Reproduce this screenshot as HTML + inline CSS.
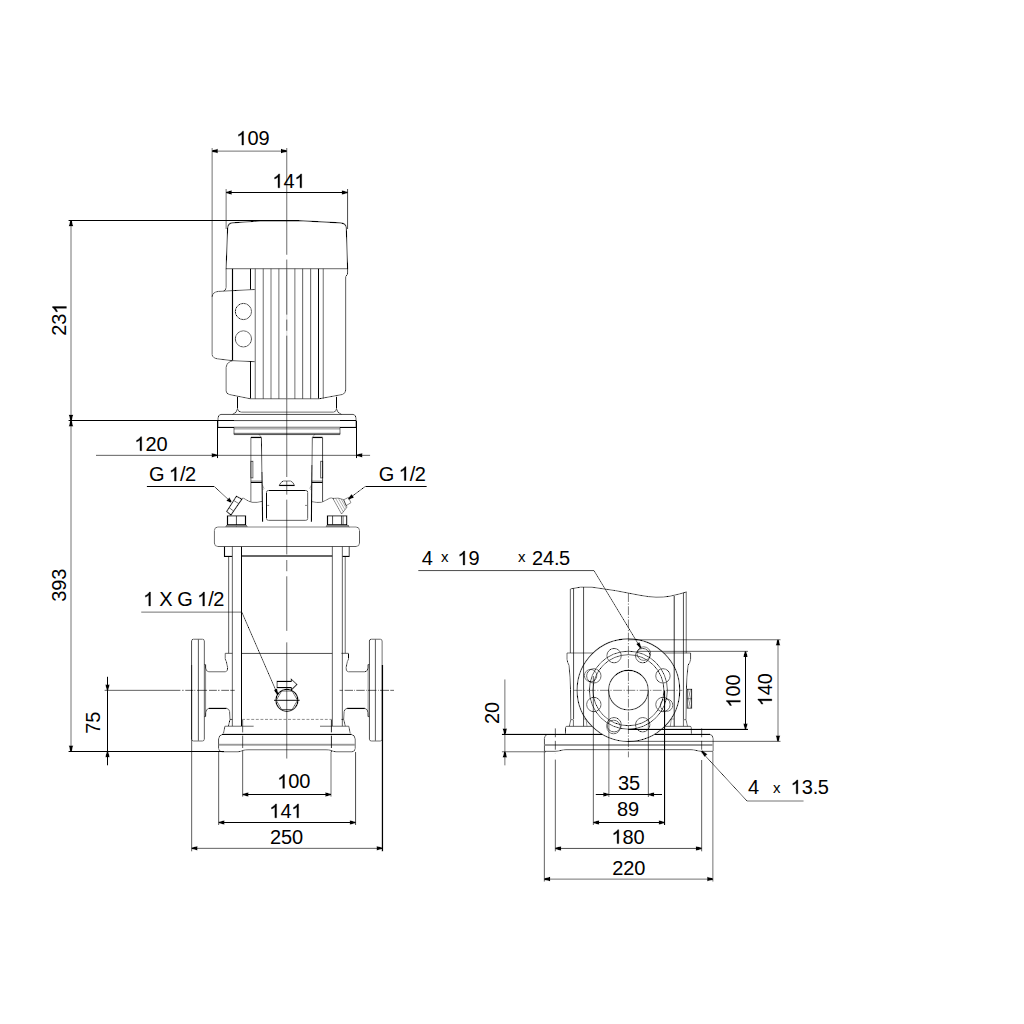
<!DOCTYPE html>
<html><head><meta charset="utf-8"><title>Pump dimensional drawing</title>
<style>
html,body{margin:0;padding:0;background:#fff;}
body{width:1024px;height:1024px;overflow:hidden;}
svg{display:block;}
text{font-family:"Liberation Sans",sans-serif;fill:#000;}
</style></head><body>
<svg width="1024" height="1024" viewBox="0 0 1024 1024">
<defs><filter id="gm" x="0" y="0" width="1024" height="1024" filterUnits="userSpaceOnUse" color-interpolation-filters="sRGB">
<feComponentTransfer><feFuncR type="gamma" exponent="0.4545"/><feFuncG type="gamma" exponent="0.4545"/><feFuncB type="gamma" exponent="0.4545"/></feComponentTransfer>
</filter></defs>
<g filter="url(#gm)">
<rect x="0" y="0" width="1024" height="1024" fill="#fff"/>
<g id="front">
<path d="M226.1,268.7 L227.6,228.4 Q227.9,223.4 232,222.9 L260.3,221 L298.4,220.6 L340.4,222.9 Q345.9,223.4 346.3,227.6 L347.6,268.7 Z" stroke="#000" stroke-width="1.15" fill="none"/>
<path d="M347.6,268.7 L347.6,273 Q347.5,275.3 346,276 Q345.6,276.5 345.7,278 L345.7,390 Q345.6,393.6 342.3,394.5 L318.9,398.8" stroke="#000" stroke-width="1.0" fill="none"/>
<path d="M226.1,268.7 L226.1,287.5 Q226,290.6 223.5,291" stroke="#000" stroke-width="1.0" fill="none"/>
<path d="M254.8,289.5 L218.3,291.4 Q212.3,292.2 212.1,296.9 L212.1,354.5 Q212.4,358 217.3,358.8 L232.6,360.7 L254.8,361.7" stroke="#000" stroke-width="1.0" fill="none"/>
<line x1="232.5" y1="268.7" x2="232.5" y2="360.7" stroke="#000" stroke-width="1.3"/>
<path d="M232.6,360.7 L230.5,361.4 Q226.3,363 226.1,367.2 L226.1,391 Q226.3,393.8 229.3,394.5 L250.5,398.8" stroke="#000" stroke-width="1.0" fill="none"/>
<line x1="250.5" y1="268.7" x2="250.5" y2="289.7" stroke="#000" stroke-width="1.0"/>
<line x1="250.5" y1="361.5" x2="250.5" y2="398.8" stroke="#000" stroke-width="1.0"/>
<line x1="255.2" y1="268.7" x2="255.2" y2="398.8" stroke="#000" stroke-width="1.0"/>
<line x1="263.2" y1="268.7" x2="263.2" y2="398.8" stroke="#000" stroke-width="1.0"/>
<line x1="271.0" y1="268.7" x2="271.0" y2="398.8" stroke="#000" stroke-width="1.0"/>
<line x1="278.9" y1="268.7" x2="278.9" y2="398.8" stroke="#000" stroke-width="1.0"/>
<line x1="294.9" y1="268.7" x2="294.9" y2="398.8" stroke="#000" stroke-width="1.0"/>
<line x1="302.7" y1="268.7" x2="302.7" y2="398.8" stroke="#000" stroke-width="1.0"/>
<line x1="310.7" y1="268.7" x2="310.7" y2="398.8" stroke="#000" stroke-width="1.0"/>
<line x1="318.5" y1="268.7" x2="318.5" y2="398.8" stroke="#000" stroke-width="1.0"/>
<line x1="323.2" y1="268.7" x2="323.2" y2="398.8" stroke="#000" stroke-width="1.0"/>
<line x1="250.5" y1="398.8" x2="318.9" y2="398.8" stroke="#000" stroke-width="1.0"/>
<circle cx="243.4" cy="311.5" r="8.1" stroke="#000" stroke-width="1.0" fill="none"/>
<circle cx="243.4" cy="338.9" r="8.1" stroke="#000" stroke-width="1.0" fill="none"/>
<path d="M237.5,396.6 L237.5,408.6 Q237.8,411.9 241.2,412.1 L333.6,412.1 Q336.3,411.9 336.5,408.6 L336.5,396.6" stroke="#000" stroke-width="1.0" fill="none"/>
<path d="M237.5,408.6 Q237,413 232.5,414.4" stroke="#000" stroke-width="1.0" fill="none"/>
<path d="M336.5,408.6 Q337,413 341.5,414.4" stroke="#000" stroke-width="1.0" fill="none"/>
<path d="M218,427.3 L218,418 Q218.2,414.6 221,414.4 L353,414.4 Q355.8,414.6 356,418 L356,427.3" stroke="#000" stroke-width="1.0" fill="none"/>
<line x1="218" y1="427.4" x2="234" y2="427.4" stroke="#000" stroke-width="1.2"/>
<line x1="340" y1="427.4" x2="356" y2="427.4" stroke="#000" stroke-width="1.2"/>
<line x1="234" y1="427.2" x2="340" y2="427.2" stroke="#000" stroke-width="1.0"/>
<line x1="234" y1="427.3" x2="234" y2="433.9" stroke="#000" stroke-width="1.0"/>
<line x1="340" y1="427.3" x2="340" y2="433.9" stroke="#000" stroke-width="1.0"/>
<line x1="234" y1="428.9" x2="340" y2="428.9" stroke="#000" stroke-width="0.9"/>
<line x1="233.7" y1="433.3" x2="340.3" y2="433.3" stroke="#000" stroke-width="1.0"/>
<line x1="233.7" y1="434.6" x2="340.3" y2="434.6" stroke="#000" stroke-width="1.0"/>
<line x1="250.9" y1="437.4" x2="261.4" y2="437.4" stroke="#000" stroke-width="1.5"/>
<line x1="250.9" y1="437.3" x2="250.9" y2="501.8" stroke="#000" stroke-width="1.0"/>
<path d="M261.4,437.3 L262.6,521.8" stroke="#000" stroke-width="1.0" fill="none"/>
<path d="M262.0,472 L262.6,521.8" stroke="#000" stroke-width="1.1" fill="none"/>
<line x1="258.7" y1="434" x2="261.2" y2="437.2" stroke="#000" stroke-width="0.6"/>
<rect x="250.9" y="461.3" width="2.0" height="16.6" rx="0" stroke="#000" stroke-width="1.0" fill="none"/>
<line x1="250.9" y1="481.1" x2="262.3" y2="481.1" stroke="#000" stroke-width="1.0"/>
<line x1="250.9" y1="482.5" x2="262.3" y2="482.5" stroke="#000" stroke-width="1.0"/>
<line x1="312.3" y1="437.4" x2="322.6" y2="437.4" stroke="#000" stroke-width="1.5"/>
<line x1="322.6" y1="437.3" x2="322.6" y2="501.8" stroke="#000" stroke-width="1.0"/>
<path d="M312.3,437.3 L311.4,521.8" stroke="#000" stroke-width="1.0" fill="none"/>
<path d="M311.9,465 L311.4,521.8" stroke="#000" stroke-width="1.1" fill="none"/>
<line x1="315" y1="434" x2="312.6" y2="437.2" stroke="#000" stroke-width="0.6"/>
<rect x="320.7" y="461.3" width="2.0" height="16.6" rx="0" stroke="#000" stroke-width="1.0" fill="none"/>
<line x1="311.6" y1="481.1" x2="322.7" y2="481.1" stroke="#000" stroke-width="1.0"/>
<line x1="311.6" y1="482.5" x2="322.7" y2="482.5" stroke="#000" stroke-width="1.0"/>
<rect x="266.5" y="490.5" width="41.2" height="29.8" rx="1.8" stroke="#000" stroke-width="1.0" fill="none"/>
<path d="M279.2,485.5 Q280.6,482 283.2,481 L290.6,481 Q293.2,482 294.5,485.5 Z" stroke="#000" stroke-width="1.0" fill="none"/>
<line x1="279.2" y1="485.4" x2="294.5" y2="485.4" stroke="#000" stroke-width="1.4"/>
<line x1="267.2" y1="505.4" x2="269.2" y2="505.4" stroke="#000" stroke-width="0.8"/>
<line x1="305" y1="505.4" x2="307" y2="505.4" stroke="#000" stroke-width="0.8"/>
<path d="M262.2,484.5 L264,488.5 L262.5,490" stroke="#000" stroke-width="0.6" fill="none"/>
<path d="M311.7,484.5 L309.8,488.5 L311.4,490" stroke="#000" stroke-width="0.6" fill="none"/>
<path d="M262.4,501.3 Q257,502.9 252,502.3 Q248.5,501.4 245.5,499.4 Q243.6,497.6 241.9,498.4" stroke="#000" stroke-width="0.9" fill="none"/>
<path d="M311.6,501.6 Q317,502.9 321.5,502.3 Q325.5,500.6 329.9,498.1 Q331.6,497.5 333.9,498.8" stroke="#000" stroke-width="0.9" fill="none"/>
<path d="M236.4,496.2 L241.9,499.1 L230.9,515 L226.7,511.5 Z" stroke="#000" stroke-width="1.2" fill="none"/>
<line x1="233.7" y1="500.5" x2="238.8" y2="503.6" stroke="#000" stroke-width="0.9"/>
<line x1="229.1" y1="507.7" x2="233.65" y2="511" stroke="#000" stroke-width="0.9"/>
<path d="M332.9,498.4 L341.6,514" stroke="#000" stroke-width="0.8" fill="none"/>
<path d="M332.9,498.4 Q338,497.2 343.6,499.6 L347,507.1 L341.6,514" stroke="#000" stroke-width="0.8" fill="none"/>
<line x1="335.6" y1="498.3" x2="343.3" y2="511.8" stroke="#000" stroke-width="0.6"/>
<line x1="338.3" y1="498.3" x2="345" y2="509.8" stroke="#000" stroke-width="0.6"/>
<line x1="341" y1="498.8" x2="346.3" y2="508.2" stroke="#000" stroke-width="0.6"/>
<path d="M343.6,499.8 L348.5,497.4 L350.9,502.75 L346,505.7 Z" stroke="#000" stroke-width="0.8" fill="none"/>
<rect x="227.5" y="515.9" width="18.0" height="8.8" rx="0" stroke="#000" stroke-width="1.3" fill="none"/>
<line x1="236.4" y1="515.9" x2="236.4" y2="526.8" stroke="#000" stroke-width="1.0"/>
<path d="M227.5,524.7 L225.5,527 M245.5,524.7 L247.5,527" stroke="#000" stroke-width="0.8" fill="none"/>
<line x1="226" y1="525.9" x2="247" y2="525.9" stroke="#333" stroke-width="1.8"/>
<rect x="327.5" y="515.9" width="19.2" height="8.8" rx="0" stroke="#000" stroke-width="1.3" fill="none"/>
<line x1="332.6" y1="515.9" x2="332.6" y2="524.7" stroke="#000" stroke-width="1.0"/>
<line x1="341.6" y1="515.9" x2="341.6" y2="524.7" stroke="#000" stroke-width="1.0"/>
<line x1="343.1" y1="515.9" x2="343.1" y2="524.7" stroke="#000" stroke-width="1.0"/>
<path d="M327.5,524.7 L326,527 M346.7,524.7 L349.5,527" stroke="#000" stroke-width="0.8" fill="none"/>
<line x1="326.5" y1="525.9" x2="349" y2="525.9" stroke="#333" stroke-width="1.8"/>
<rect x="214.4" y="527" width="145.1" height="19.5" rx="3.5" stroke="#000" stroke-width="0.9" fill="none"/>
<path d="M224.5,546.5 L224.5,556.4 L232.3,556.4" stroke="#000" stroke-width="1.2" fill="none"/>
<path d="M349.2,546.5 L349.2,556.4 L342.3,556.4" stroke="#000" stroke-width="1.2" fill="none"/>
<line x1="241.5" y1="555.9" x2="332.3" y2="555.9" stroke="#222" stroke-width="2.0"/>
<line x1="228.7" y1="556.3" x2="228.7" y2="653.3" stroke="#000" stroke-width="1.0"/>
<line x1="232.3" y1="546.5" x2="232.3" y2="726.2" stroke="#000" stroke-width="1.0"/>
<line x1="241.5" y1="546.5" x2="241.5" y2="726.2" stroke="#000" stroke-width="1.0"/>
<line x1="332.3" y1="546.5" x2="332.3" y2="726.2" stroke="#000" stroke-width="1.0"/>
<line x1="342.3" y1="546.5" x2="342.3" y2="726.2" stroke="#000" stroke-width="1.0"/>
<line x1="345.2" y1="556.3" x2="345.2" y2="653.3" stroke="#000" stroke-width="1.0"/>
<line x1="241.5" y1="653.4" x2="332.3" y2="653.4" stroke="#000" stroke-width="1.0"/>
<path d="M232.4,653.3 L225.2,653.3 L225.2,658.7 Q225.4,660 226.3,661.4 L227.6,667.6 Q228.1,671.5 225.3,671.8 L208.8,671.8 Q206,671.5 205.6,668 L205.6,664.6 L204.3,664.6" stroke="#000" stroke-width="1.0" fill="none"/>
<path d="M204.3,716.6 L205.6,716.6 L205.7,712.5 Q206,708.9 208.8,708.4 L226.6,708.4 Q229.2,708.8 229.6,711.5 L230,719.4 L232.4,719.4" stroke="#000" stroke-width="1.0" fill="none"/>
<path d="M208.8,708.4 L226.6,708.4" stroke="#000" stroke-width="1.3" fill="none"/>
<path d="M230,719.4 L228.4,726.2" stroke="#000" stroke-width="1.0" fill="none"/>
<path d="M205.6,664.6 L205.6,716.6" stroke="#000" stroke-width="0.8" fill="none"/>
<path d="M193.4,639.2 L202.5,639.2 Q204.3,639.3 204.3,641 L204.3,739.2 Q204.3,740.9 202.5,741 L193.4,741 Q191.6,740.9 191.6,739.2 L191.6,641 Q191.6,639.3 193.4,639.2 Z" stroke="#000" stroke-width="1.0" fill="none"/>
<path d="M198.35,639.4 L198.35,740.8" stroke="#000" stroke-width="1.0" fill="none"/>
<path d="M341.3,653.3 L348.5,653.3 L348.5,658.7 Q348.3,660 347.4,661.4 L346.1,667.6 Q345.6,671.5 348.4,671.8 L364.9,671.8 Q367.7,671.5 368.1,668 L368.1,664.6 L369.4,664.6" stroke="#000" stroke-width="1.0" fill="none"/>
<path d="M369.4,716.6 L368.1,716.6 L368.0,712.5 Q367.7,708.9 364.9,708.4 L347.1,708.4 Q344.5,708.8 344.1,711.5 L343.7,719.4 L341.3,719.4" stroke="#000" stroke-width="1.0" fill="none"/>
<path d="M364.9,708.4 L347.1,708.4" stroke="#000" stroke-width="1.3" fill="none"/>
<path d="M343.7,719.4 L345.3,726.2" stroke="#000" stroke-width="1.0" fill="none"/>
<path d="M368.1,664.6 L368.1,716.6" stroke="#000" stroke-width="0.8" fill="none"/>
<path d="M380.3,639.2 L371.2,639.2 Q369.4,639.3 369.4,641 L369.4,739.2 Q369.4,740.9 371.2,741 L380.3,741 Q382.1,740.9 382.1,739.2 L382.1,641 Q382.1,639.3 380.3,639.2 Z" stroke="#000" stroke-width="1.0" fill="none"/>
<path d="M375.35,639.4 L375.35,740.8" stroke="#000" stroke-width="1.0" fill="none"/>
<circle cx="286.9" cy="700.3" r="11.0" stroke="#000" stroke-width="1.25" fill="none"/>
<path d="M297.5,700.3 L292.2,709.48 L281.6,709.48 L276.3,700.3 L281.6,691.12 L292.2,691.12 Z" stroke="#000" stroke-width="0.9" fill="none"/>
<line x1="274" y1="700.3" x2="299.8" y2="700.3" stroke="#000" stroke-width="1.3"/>
<path d="M277.1,681.3 L291.3,681.3 L291.3,679.2 L296.9,684.4 L291.3,690 L291.3,687.6 L277.1,687.6 Z" stroke="#000" stroke-width="1.15" fill="none"/>
<line x1="242" y1="719.4" x2="332" y2="719.4" stroke="#000" stroke-width="0.75" stroke-dasharray="3 1.6"/>
<path d="M223.5,733.4 L224.9,726.2 L253.7,726.2" stroke="#000" stroke-width="1.0" fill="none"/>
<path d="M350.2,733.4 L348.8,726.2 L320,726.2" stroke="#000" stroke-width="1.0" fill="none"/>
<line x1="222" y1="734.4" x2="351.6" y2="734.4" stroke="#000" stroke-width="1.4"/>
<path d="M218.6,748.5 L218.6,739 Q218.8,735 222.5,734.4" stroke="#000" stroke-width="1.0" fill="none"/>
<path d="M355.2,748.5 L355.2,739 Q355,735 351.2,734.4" stroke="#000" stroke-width="1.0" fill="none"/>
<path d="M218.6,748.5 Q218.7,751.6 222,751.8 L238,751.8 Q241,751.5 243,750.4 Q245,749.8 248,749.8 L326,749.8 Q329,749.8 331,750.4 Q333,751.5 336,751.8 L352,751.8 Q355.1,751.6 355.2,748.5" stroke="#000" stroke-width="1.0" fill="none"/>
<line x1="218.8" y1="744.8" x2="355.1" y2="744.8" stroke="#555" stroke-width="2.0"/>
<line x1="242.7" y1="720" x2="242.7" y2="752" stroke="#000" stroke-width="1.0" stroke-dasharray="12.5 3"/>
<line x1="331.4" y1="720" x2="331.4" y2="752" stroke="#000" stroke-width="1.1" stroke-dasharray="12.5 3"/>
<line x1="286.8" y1="268.7" x2="286.8" y2="398.8" stroke="#aaa" stroke-width="1.0"/>
<line x1="286.8" y1="148" x2="286.8" y2="254.8" stroke="#000" stroke-width="1.0"/>
<line x1="286.8" y1="259.5" x2="286.8" y2="314.7" stroke="#000" stroke-width="1.0"/>
<line x1="286.8" y1="319.5" x2="286.8" y2="330.8" stroke="#000" stroke-width="1.0"/>
<line x1="286.8" y1="335.6" x2="286.8" y2="477" stroke="#000" stroke-width="1.0"/>
<line x1="286.8" y1="481" x2="286.8" y2="494.7" stroke="#000" stroke-width="1.0"/>
<line x1="286.8" y1="499.6" x2="286.8" y2="554.5" stroke="#000" stroke-width="1.0"/>
<line x1="286.8" y1="560" x2="286.8" y2="571.25" stroke="#000" stroke-width="1.0"/>
<line x1="286.8" y1="576.25" x2="286.8" y2="630.9" stroke="#000" stroke-width="1.0"/>
<line x1="286.8" y1="642.3" x2="286.8" y2="758.6" stroke="#000" stroke-width="1.0"/>
<line x1="104.5" y1="690.3" x2="180.5" y2="690.3" stroke="#000" stroke-width="1.0"/>
<line x1="182.1" y1="690.3" x2="183.7" y2="690.3" stroke="#000" stroke-width="1.0"/>
<line x1="185.2" y1="690.3" x2="193.4" y2="690.3" stroke="#000" stroke-width="1.0"/>
<line x1="194.2" y1="690.3" x2="195.4" y2="690.3" stroke="#000" stroke-width="1.0"/>
<line x1="197" y1="690.3" x2="207.1" y2="690.3" stroke="#000" stroke-width="1.0"/>
<line x1="209" y1="690.3" x2="216.9" y2="690.3" stroke="#000" stroke-width="1.0"/>
<line x1="218" y1="690.3" x2="219.6" y2="690.3" stroke="#000" stroke-width="1.0"/>
<line x1="221.2" y1="690.3" x2="229" y2="690.3" stroke="#000" stroke-width="1.0"/>
<line x1="230.2" y1="690.3" x2="234.8" y2="690.3" stroke="#000" stroke-width="1.0"/>
<line x1="339.4" y1="690.3" x2="342.9" y2="690.3" stroke="#000" stroke-width="1.0"/>
<line x1="344.5" y1="690.3" x2="353" y2="690.3" stroke="#000" stroke-width="1.0"/>
<line x1="354.2" y1="690.3" x2="355" y2="690.3" stroke="#000" stroke-width="1.0"/>
<line x1="356.2" y1="690.3" x2="364.8" y2="690.3" stroke="#000" stroke-width="1.0"/>
<line x1="366.1" y1="690.3" x2="366.9" y2="690.3" stroke="#000" stroke-width="1.0"/>
<line x1="367.9" y1="690.3" x2="376.5" y2="690.3" stroke="#000" stroke-width="1.0"/>
<line x1="378" y1="690.3" x2="378.8" y2="690.3" stroke="#000" stroke-width="1.0"/>
<line x1="380" y1="690.3" x2="389" y2="690.3" stroke="#000" stroke-width="1.0"/>
<line x1="390.2" y1="690.3" x2="394" y2="690.3" stroke="#000" stroke-width="1.0"/>
</g>
<g id="side">
<line x1="570.3" y1="589" x2="570.3" y2="653.0" stroke="#000" stroke-width="1.0"/>
<line x1="573.6" y1="588.2" x2="573.6" y2="719" stroke="#000" stroke-width="1.0"/>
<line x1="583.6" y1="587" x2="583.6" y2="726.4" stroke="#000" stroke-width="1.0"/>
<line x1="674.2" y1="596" x2="674.2" y2="726.4" stroke="#000" stroke-width="1.3"/>
<line x1="683.4" y1="592.6" x2="683.4" y2="719.7" stroke="#000" stroke-width="1.0"/>
<line x1="686.2" y1="591.6" x2="686.2" y2="653.3" stroke="#000" stroke-width="1.0"/>
<path d="M570.5,588.9 Q580,586.2 592,587.2 Q615,590 640,595.3 Q657,598.6 670,596.2 Q680,594 686.4,592" stroke="#000" stroke-width="1.0" fill="none"/>
<line x1="567.0" y1="653.0" x2="593.2" y2="653.0" stroke="#000" stroke-width="1.0"/>
<line x1="663.6" y1="653.0" x2="690.6" y2="653.0" stroke="#000" stroke-width="1.0"/>
<path d="M567.0,653.0 L567.0,659.3 Q567.4,662.5 569.0,665.2 Q570.3,677 570.5,689.2 L570.8,719.7" stroke="#000" stroke-width="1.0" fill="none"/>
<path d="M690.6,653.0 L690.6,659.3 Q690.2,662.5 688.1,665.2 Q686.6,677 686.4,689.2 L686,719.7" stroke="#000" stroke-width="1.0" fill="none"/>
<path d="M573.4,719.7 L570.8,719.7 L569.3,726.3 M573.4,719.7 L573.4,726.3" stroke="#000" stroke-width="0.9" fill="none"/>
<path d="M583.6,719 L586,719 L587,726.4" stroke="#000" stroke-width="0.7" fill="none"/>
<path d="M683.4,719.7 L686,719.7 L687.5,726.3 M683.4,719.7 L683.4,726.3" stroke="#000" stroke-width="0.9" fill="none"/>
<path d="M674,719 L671.3,719 L670.3,726.4" stroke="#000" stroke-width="0.7" fill="none"/>
<path d="M565.4,733.8 L565.6,727.3 Q565.7,726.3 566.8,726.3 L592.2,726.3" stroke="#000" stroke-width="1.0" fill="none"/>
<path d="M691.4,733.8 L691.2,727.3 Q691.1,726.3 690,726.3 L664.6,726.3" stroke="#000" stroke-width="1.0" fill="none"/>
<line x1="546" y1="734.3" x2="602.3" y2="734.3" stroke="#000" stroke-width="1.3"/>
<line x1="654.5" y1="734.3" x2="710" y2="734.3" stroke="#000" stroke-width="1.3"/>
<path d="M544.4,751.3 L544.4,738.3 Q544.6,734.6 548,734.3" stroke="#000" stroke-width="1.0" fill="none"/>
<path d="M713.1,751.3 L713.1,738.3 Q712.9,734.6 709.4,734.3" stroke="#000" stroke-width="1.0" fill="none"/>
<path d="M544.4,751.3 L555,751.3 Q558.5,751.2 561,750.4 Q563.5,749.7 566,749.7 L691,749.7 Q693.5,749.7 696,750.4 Q698.5,751.2 702,751.3 L713.1,751.3" stroke="#000" stroke-width="1.0" fill="none"/>
<line x1="544.6" y1="744.9" x2="712.8" y2="744.9" stroke="#555" stroke-width="2.0"/>
<circle cx="628.4" cy="690.2" r="51.3" stroke="#000" stroke-width="1.1" fill="none"/>
<circle cx="628.4" cy="690.2" r="39.0" stroke="#000" stroke-width="1.0" fill="none"/>
<circle cx="628.4" cy="690.2" r="35.5" stroke="#000" stroke-width="1.0" fill="none"/>
<circle cx="628.4" cy="690.2" r="19.8" stroke="#000" stroke-width="1.1" fill="none"/>
<circle cx="642.71" cy="655.65" r="7.2" stroke="#000" stroke-width="1.0" fill="none"/>
<circle cx="662.95" cy="675.89" r="7.2" stroke="#000" stroke-width="1.0" fill="none"/>
<circle cx="662.95" cy="704.51" r="7.2" stroke="#000" stroke-width="1.0" fill="none"/>
<circle cx="642.71" cy="724.75" r="7.2" stroke="#000" stroke-width="1.0" fill="none"/>
<circle cx="614.09" cy="724.75" r="7.2" stroke="#000" stroke-width="1.0" fill="none"/>
<circle cx="593.85" cy="704.51" r="7.2" stroke="#000" stroke-width="1.0" fill="none"/>
<circle cx="593.85" cy="675.89" r="7.2" stroke="#000" stroke-width="1.0" fill="none"/>
<circle cx="614.09" cy="655.65" r="7.2" stroke="#000" stroke-width="1.0" fill="none"/>
<circle cx="643.8" cy="653.6" r="6.8" stroke="#000" stroke-width="0.9" fill="none"/>
<circle cx="590.6" cy="675.6" r="6.2" stroke="#000" stroke-width="0.9" fill="none"/>
<circle cx="666.6" cy="705.2" r="6.2" stroke="#000" stroke-width="0.9" fill="none"/>
<circle cx="613.6" cy="727.0" r="6.8" stroke="#000" stroke-width="0.9" fill="none"/>
<rect x="687.3" y="689.3" width="4.3" height="18.9" rx="0" stroke="#000" stroke-width="1.1" fill="none"/>
<line x1="687.3" y1="698.7" x2="691.6" y2="698.7" stroke="#000" stroke-width="0.9"/>
<path d="M688.4,689.6 Q690.6,694.1 688.4,698.5 M690.6,689.6 Q688.6,694.1 690.6,698.5" stroke="#000" stroke-width="0.6" fill="none"/>
<path d="M688.4,698.9 Q690.6,703.4 688.4,707.9 M690.6,698.9 Q688.6,703.4 690.6,707.9" stroke="#000" stroke-width="0.6" fill="none"/>
<line x1="628.4" y1="593" x2="628.4" y2="757.4" stroke="#000" stroke-width="0.85" stroke-dasharray="9 1.4 1.4 1.4" stroke-dashoffset="0"/>
<line x1="573.5" y1="690.3" x2="682.5" y2="690.3" stroke="#000" stroke-width="0.85" stroke-dasharray="9 1.4 1.4 1.4" stroke-dashoffset="0"/>
<line x1="555.3" y1="728.3" x2="555.3" y2="753.5" stroke="#000" stroke-width="1.0" stroke-dasharray="9 3.5"/>
<line x1="701.7" y1="728.3" x2="701.7" y2="753.5" stroke="#000" stroke-width="1.0" stroke-dasharray="9 3.5"/>
</g>
<g id="dims">
<line x1="212.1" y1="148" x2="212.1" y2="297" stroke="#000" stroke-width="1.0"/>
<line x1="212.1" y1="151.1" x2="286.8" y2="151.1" stroke="#000" stroke-width="1.0"/>
<polygon points="212.1,150.3 217.9,148.85 217.9,153.35 212.1,151.9" fill="#000"/>
<polygon points="286.8,151.9 281.0,153.35 281.0,148.85 286.8,150.3" fill="#000"/>
<line x1="226.1" y1="189" x2="226.1" y2="229" stroke="#000" stroke-width="1.0"/>
<line x1="347.6" y1="189" x2="347.6" y2="229" stroke="#000" stroke-width="1.0"/>
<line x1="226.1" y1="192.5" x2="347.6" y2="192.5" stroke="#000" stroke-width="1.0"/>
<polygon points="226.1,191.7 231.9,190.25 231.9,194.75 226.1,193.3" fill="#000"/>
<polygon points="347.6,193.3 341.8,194.75 341.8,190.25 347.6,191.7" fill="#000"/>
<line x1="68.3" y1="220.5" x2="298" y2="220.5" stroke="#000" stroke-width="1.0"/>
<line x1="68.3" y1="420.5" x2="234" y2="420.5" stroke="#000" stroke-width="1.0"/>
<line x1="234" y1="420.6" x2="340" y2="420.6" stroke="#000" stroke-width="1.0"/>
<line x1="340" y1="420.5" x2="356.2" y2="420.5" stroke="#000" stroke-width="1.0"/>
<line x1="68.3" y1="751.5" x2="224" y2="751.5" stroke="#000" stroke-width="1.0"/>
<line x1="71.0" y1="220.5" x2="71.0" y2="751.4" stroke="#000" stroke-width="1.0"/>
<polygon points="71.8,220.5 73.25,226.3 68.75,226.3 70.2,220.5" fill="#000"/>
<polygon points="70.2,420.6 68.75,414.8 73.25,414.8 71.8,420.6" fill="#000"/>
<polygon points="71.8,420.6 73.25,426.4 68.75,426.4 70.2,420.6" fill="#000"/>
<polygon points="70.2,751.4 68.75,745.6 73.25,745.6 71.8,751.4" fill="#000"/>
<line x1="107.5" y1="676.6" x2="107.5" y2="765.5" stroke="#000" stroke-width="1.0"/>
<polygon points="106.7,690.3 105.25,684.5 109.75,684.5 108.3,690.3" fill="#000"/>
<polygon points="108.3,751.4 109.75,757.2 105.25,757.2 106.7,751.4" fill="#000"/>
<line x1="217.5" y1="420.6" x2="217.5" y2="458.1" stroke="#000" stroke-width="1.0"/>
<line x1="356.5" y1="420.6" x2="356.5" y2="458.1" stroke="#000" stroke-width="1.0"/>
<line x1="96" y1="455.3" x2="370.1" y2="455.3" stroke="#000" stroke-width="1.0"/>
<polygon points="217.4,456.1 211.6,457.55 211.6,453.05 217.4,454.5" fill="#000"/>
<polygon points="356.6,454.5 362.4,453.05 362.4,457.55 356.6,456.1" fill="#000"/>
<path d="M146.8,486.5 L214.3,486.5 L229.4,500.5" stroke="#000" stroke-width="1.0" fill="none"/>
<polygon points="230.65,502.78 226.27,500.72 229.42,497.37 231.75,501.62" fill="#000"/>
<path d="M426.9,486.5 L365.2,486.5 L348.3,499.1" stroke="#000" stroke-width="1.0" fill="none"/>
<polygon points="347.92,498.46 351.48,494.04 354.12,497.55 348.88,499.74" fill="#000"/>
<path d="M141.2,612.1 L241.8,612.1 L277.6,694.4" stroke="#000" stroke-width="1.0" fill="none"/>
<polygon points="277.07,695.12 273.76,690.02 277.06,688.58 278.53,694.48" fill="#000"/>
<line x1="242.7" y1="752" x2="242.7" y2="796.7" stroke="#000" stroke-width="1.0"/>
<line x1="331.0" y1="752" x2="331.0" y2="796.7" stroke="#000" stroke-width="1.0"/>
<line x1="242.7" y1="794.5" x2="331.0" y2="794.5" stroke="#000" stroke-width="1.0"/>
<polygon points="242.7,793.7 248.5,792.25 248.5,796.75 242.7,795.3" fill="#000"/>
<polygon points="331.0,795.3 325.2,796.75 325.2,792.25 331.0,793.7" fill="#000"/>
<line x1="218.7" y1="752" x2="218.7" y2="825" stroke="#000" stroke-width="1.0"/>
<line x1="355.6" y1="752" x2="355.6" y2="825" stroke="#000" stroke-width="1.0"/>
<line x1="218.7" y1="822.5" x2="355.6" y2="822.5" stroke="#000" stroke-width="1.0"/>
<polygon points="218.7,821.7 224.5,820.25 224.5,824.75 218.7,823.3" fill="#000"/>
<polygon points="355.6,823.3 349.8,824.75 349.8,820.25 355.6,821.7" fill="#000"/>
<line x1="191.7" y1="665" x2="191.7" y2="851.4" stroke="#000" stroke-width="1.0"/>
<line x1="382.4" y1="665" x2="382.4" y2="851.4" stroke="#000" stroke-width="1.5"/>
<line x1="191.7" y1="848.3" x2="382.4" y2="848.3" stroke="#000" stroke-width="1.0"/>
<polygon points="191.7,847.5 197.5,846.05 197.5,850.55 191.7,849.1" fill="#000"/>
<polygon points="382.4,849.1 376.6,850.55 376.6,846.05 382.4,847.5" fill="#000"/>
<path d="M418.2,570.6 L594,570.6 L640.6,647.9" stroke="#000" stroke-width="1.0" fill="none"/>
<polygon points="640.31,648.71 636.19,643.95 639.45,642.0 641.69,647.89" fill="#000"/>
<line x1="628.4" y1="639.8" x2="780.6" y2="639.8" stroke="#000" stroke-width="1.0"/>
<line x1="628.4" y1="741.3" x2="780.6" y2="741.3" stroke="#000" stroke-width="1.0"/>
<line x1="778.0" y1="639.8" x2="778.0" y2="741.3" stroke="#000" stroke-width="1.0"/>
<polygon points="778.8,639.8 780.25,645.6 775.75,645.6 777.2,639.8" fill="#000"/>
<polygon points="777.2,741.3 775.75,735.5 780.25,735.5 778.8,741.3" fill="#000"/>
<line x1="637" y1="651.3" x2="748" y2="651.3" stroke="#000" stroke-width="1.0"/>
<line x1="628" y1="729.3" x2="748" y2="729.3" stroke="#000" stroke-width="1.2"/>
<line x1="745.5" y1="651.3" x2="745.5" y2="729.3" stroke="#000" stroke-width="1.0"/>
<polygon points="746.3,651.3 747.75,657.1 743.25,657.1 744.7,651.3" fill="#000"/>
<polygon points="744.7,729.3 743.25,723.5 747.75,723.5 746.3,729.3" fill="#000"/>
<line x1="501.9" y1="734.3" x2="546" y2="734.3" stroke="#000" stroke-width="1.2"/>
<line x1="501.9" y1="751.8" x2="546" y2="751.8" stroke="#000" stroke-width="1.0"/>
<line x1="504.9" y1="679.4" x2="504.9" y2="765.4" stroke="#000" stroke-width="1.0"/>
<polygon points="504.1,734.3 502.65,728.5 507.15,728.5 505.7,734.3" fill="#000"/>
<polygon points="505.7,751.8 507.15,757.6 502.65,757.6 504.1,751.8" fill="#000"/>
<line x1="608.9" y1="690.3" x2="608.9" y2="797" stroke="#000" stroke-width="1.0"/>
<line x1="648.3" y1="690.3" x2="648.3" y2="797" stroke="#000" stroke-width="1.0"/>
<line x1="595.6" y1="794.5" x2="662" y2="794.5" stroke="#000" stroke-width="1.0"/>
<polygon points="608.9,795.3 603.1,796.75 603.1,792.25 608.9,793.7" fill="#000"/>
<polygon points="648.3,793.7 654.1,792.25 654.1,796.75 648.3,795.3" fill="#000"/>
<line x1="593.3" y1="676" x2="593.3" y2="825" stroke="#000" stroke-width="1.0"/>
<line x1="664.6" y1="690.3" x2="664.6" y2="825" stroke="#000" stroke-width="1.2"/>
<line x1="593.3" y1="822.5" x2="664.6" y2="822.5" stroke="#000" stroke-width="1.0"/>
<polygon points="593.3,821.7 599.1,820.25 599.1,824.75 593.3,823.3" fill="#000"/>
<polygon points="664.6,823.3 658.8,824.75 658.8,820.25 664.6,821.7" fill="#000"/>
<line x1="555.3" y1="759.5" x2="555.3" y2="851.4" stroke="#000" stroke-width="1.0"/>
<line x1="701.7" y1="760" x2="701.7" y2="851.4" stroke="#000" stroke-width="1.0"/>
<line x1="555.3" y1="848.4" x2="701.7" y2="848.4" stroke="#000" stroke-width="1.0"/>
<polygon points="555.3,847.6 561.1,846.15 561.1,850.65 555.3,849.2" fill="#000"/>
<polygon points="701.7,849.2 695.9,850.65 695.9,846.15 701.7,847.6" fill="#000"/>
<line x1="544.3" y1="752" x2="544.3" y2="881.6" stroke="#000" stroke-width="1.0"/>
<line x1="712.9" y1="752" x2="712.9" y2="881.6" stroke="#000" stroke-width="1.0"/>
<line x1="544.3" y1="879.1" x2="712.9" y2="879.1" stroke="#000" stroke-width="1.0"/>
<polygon points="544.3,878.3 550.1,876.85 550.1,881.35 544.3,879.9" fill="#000"/>
<polygon points="712.9,879.9 707.1,881.35 707.1,876.85 712.9,878.3" fill="#000"/>
<path d="M803.6,801 L747,801 L701.1,751.3" stroke="#000" stroke-width="1.0" fill="none"/>
<polygon points="702.19,750.36 707.48,754.32 704.54,757.03 701.01,751.44" fill="#000"/>
</g>
</g>
<g id="labels">
<g transform="translate(236.4,145.0)"><path transform="translate(0.0,0) scale(0.009424,-0.009424)" d="M763,0 L583,0 L583,1147 Q518,1085 412.5,1023 Q307,961 223,930 L223,1104 Q374,1175 487,1276 Q600,1377 647,1472 L763,1472 Z" fill="#000" stroke="#000" stroke-width="34"/><text x="11.0" y="0" font-size="20">0</text><text x="22.0" y="0" font-size="20">9</text></g>
<g transform="translate(272.5,187.8)"><path transform="translate(0.0,0) scale(0.009424,-0.009424)" d="M763,0 L583,0 L583,1147 Q518,1085 412.5,1023 Q307,961 223,930 L223,1104 Q374,1175 487,1276 Q600,1377 647,1472 L763,1472 Z" fill="#000" stroke="#000" stroke-width="34"/><text x="11.0" y="0" font-size="20">4</text><path transform="translate(22.0,0) scale(0.009424,-0.009424)" d="M763,0 L583,0 L583,1147 Q518,1085 412.5,1023 Q307,961 223,930 L223,1104 Q374,1175 487,1276 Q600,1377 647,1472 L763,1472 Z" fill="#000" stroke="#000" stroke-width="34"/></g>
<g transform="translate(66.4,335.8) rotate(-90)"><text x="0.0" y="0" font-size="20">2</text><text x="11.0" y="0" font-size="20">3</text><path transform="translate(22.0,0) scale(0.009424,-0.009424)" d="M763,0 L583,0 L583,1147 Q518,1085 412.5,1023 Q307,961 223,930 L223,1104 Q374,1175 487,1276 Q600,1377 647,1472 L763,1472 Z" fill="#000" stroke="#000" stroke-width="34"/></g>
<g transform="translate(66.0,601.8) rotate(-90)"><text x="0.0" y="0" font-size="20">3</text><text x="11.0" y="0" font-size="20">9</text><text x="22.0" y="0" font-size="20">3</text></g>
<g transform="translate(99.6,733.8) rotate(-90)"><text x="0.0" y="0" font-size="20">7</text><text x="11.0" y="0" font-size="20">5</text></g>
<g transform="translate(134.5,450.7)"><path transform="translate(0.0,0) scale(0.009424,-0.009424)" d="M763,0 L583,0 L583,1147 Q518,1085 412.5,1023 Q307,961 223,930 L223,1104 Q374,1175 487,1276 Q600,1377 647,1472 L763,1472 Z" fill="#000" stroke="#000" stroke-width="34"/><text x="11.0" y="0" font-size="20">2</text><text x="22.0" y="0" font-size="20">0</text></g>
<g transform="translate(149.0,481.0)"><text x="0.0" y="0" font-size="20">G</text><path transform="translate(20.0,0) scale(0.009424,-0.009424)" d="M763,0 L583,0 L583,1147 Q518,1085 412.5,1023 Q307,961 223,930 L223,1104 Q374,1175 487,1276 Q600,1377 647,1472 L763,1472 Z" fill="#000" stroke="#000" stroke-width="34"/><text x="31.0" y="0" font-size="20">/</text><text x="36.0" y="0" font-size="20">2</text></g>
<g transform="translate(378.8,480.5)"><text x="0.0" y="0" font-size="20">G</text><path transform="translate(20.0,0) scale(0.009424,-0.009424)" d="M763,0 L583,0 L583,1147 Q518,1085 412.5,1023 Q307,961 223,930 L223,1104 Q374,1175 487,1276 Q600,1377 647,1472 L763,1472 Z" fill="#000" stroke="#000" stroke-width="34"/><text x="31.0" y="0" font-size="20">/</text><text x="36.0" y="0" font-size="20">2</text></g>
<g transform="translate(143.3,605.9)"><path transform="translate(0.0,0) scale(0.009424,-0.009424)" d="M763,0 L583,0 L583,1147 Q518,1085 412.5,1023 Q307,961 223,930 L223,1104 Q374,1175 487,1276 Q600,1377 647,1472 L763,1472 Z" fill="#000" stroke="#000" stroke-width="34"/><text x="16.0" y="0" font-size="20">X</text><text x="34.0" y="0" font-size="20">G</text><path transform="translate(54.0,0) scale(0.009424,-0.009424)" d="M763,0 L583,0 L583,1147 Q518,1085 412.5,1023 Q307,961 223,930 L223,1104 Q374,1175 487,1276 Q600,1377 647,1472 L763,1472 Z" fill="#000" stroke="#000" stroke-width="34"/><text x="65.0" y="0" font-size="20">/</text><text x="70.0" y="0" font-size="20">2</text></g>
<g transform="translate(277.3,788.3)"><path transform="translate(0.0,0) scale(0.009424,-0.009424)" d="M763,0 L583,0 L583,1147 Q518,1085 412.5,1023 Q307,961 223,930 L223,1104 Q374,1175 487,1276 Q600,1377 647,1472 L763,1472 Z" fill="#000" stroke="#000" stroke-width="34"/><text x="11.0" y="0" font-size="20">0</text><text x="22.0" y="0" font-size="20">0</text></g>
<g transform="translate(269.4,817.8)"><path transform="translate(0.0,0) scale(0.009424,-0.009424)" d="M763,0 L583,0 L583,1147 Q518,1085 412.5,1023 Q307,961 223,930 L223,1104 Q374,1175 487,1276 Q600,1377 647,1472 L763,1472 Z" fill="#000" stroke="#000" stroke-width="34"/><text x="11.0" y="0" font-size="20">4</text><path transform="translate(22.0,0) scale(0.009424,-0.009424)" d="M763,0 L583,0 L583,1147 Q518,1085 412.5,1023 Q307,961 223,930 L223,1104 Q374,1175 487,1276 Q600,1377 647,1472 L763,1472 Z" fill="#000" stroke="#000" stroke-width="34"/></g>
<g transform="translate(270.1,843.6)"><text x="0.0" y="0" font-size="20">2</text><text x="11.0" y="0" font-size="20">5</text><text x="22.0" y="0" font-size="20">0</text></g>
<g transform="translate(421.8,564.9)"><text x="0.0" y="0" font-size="20">4</text></g>
<g transform="translate(441.0,562.4)"><text x="0.0" y="0" font-size="15">x</text></g>
<g transform="translate(457.6,564.9)"><path transform="translate(0.0,0) scale(0.009424,-0.009424)" d="M763,0 L583,0 L583,1147 Q518,1085 412.5,1023 Q307,961 223,930 L223,1104 Q374,1175 487,1276 Q600,1377 647,1472 L763,1472 Z" fill="#000" stroke="#000" stroke-width="34"/><text x="11.0" y="0" font-size="20">9</text></g>
<g transform="translate(518.0,562.4)"><text x="0.0" y="0" font-size="15">x</text></g>
<g transform="translate(531.9,564.9)"><text x="0.0" y="0" font-size="20">2</text><text x="11.0" y="0" font-size="20">4</text><text x="22.0" y="0" font-size="20">.</text><text x="27.0" y="0" font-size="20">5</text></g>
<g transform="translate(771.8,706.2) rotate(-90)"><path transform="translate(0.0,0) scale(0.009424,-0.009424)" d="M763,0 L583,0 L583,1147 Q518,1085 412.5,1023 Q307,961 223,930 L223,1104 Q374,1175 487,1276 Q600,1377 647,1472 L763,1472 Z" fill="#000" stroke="#000" stroke-width="34"/><text x="11.0" y="0" font-size="20">4</text><text x="22.0" y="0" font-size="20">0</text></g>
<g transform="translate(740.3,707.6) rotate(-90)"><path transform="translate(0.0,0) scale(0.009424,-0.009424)" d="M763,0 L583,0 L583,1147 Q518,1085 412.5,1023 Q307,961 223,930 L223,1104 Q374,1175 487,1276 Q600,1377 647,1472 L763,1472 Z" fill="#000" stroke="#000" stroke-width="34"/><text x="11.0" y="0" font-size="20">0</text><text x="22.0" y="0" font-size="20">0</text></g>
<g transform="translate(498.7,724.0) rotate(-90)"><text x="0.0" y="0" font-size="20">2</text><text x="11.0" y="0" font-size="20">0</text></g>
<g transform="translate(617.9,789.8)"><text x="0.0" y="0" font-size="20">3</text><text x="11.0" y="0" font-size="20">5</text></g>
<g transform="translate(616.9,815.8)"><text x="0.0" y="0" font-size="20">8</text><text x="11.0" y="0" font-size="20">9</text></g>
<g transform="translate(611.6,843.6)"><path transform="translate(0.0,0) scale(0.009424,-0.009424)" d="M763,0 L583,0 L583,1147 Q518,1085 412.5,1023 Q307,961 223,930 L223,1104 Q374,1175 487,1276 Q600,1377 647,1472 L763,1472 Z" fill="#000" stroke="#000" stroke-width="34"/><text x="11.0" y="0" font-size="20">8</text><text x="22.0" y="0" font-size="20">0</text></g>
<g transform="translate(612.2,875.0)"><text x="0.0" y="0" font-size="20">2</text><text x="11.0" y="0" font-size="20">2</text><text x="22.0" y="0" font-size="20">0</text></g>
<g transform="translate(748.1,793.8)"><text x="0.0" y="0" font-size="20">4</text></g>
<g transform="translate(773.0,792.7)"><text x="0.0" y="0" font-size="15">x</text></g>
<g transform="translate(790.7,793.8)"><path transform="translate(0.0,0) scale(0.009424,-0.009424)" d="M763,0 L583,0 L583,1147 Q518,1085 412.5,1023 Q307,961 223,930 L223,1104 Q374,1175 487,1276 Q600,1377 647,1472 L763,1472 Z" fill="#000" stroke="#000" stroke-width="34"/><text x="11.0" y="0" font-size="20">3</text><text x="22.0" y="0" font-size="20">.</text><text x="27.0" y="0" font-size="20">5</text></g>
</g>
</svg>
</body></html>
